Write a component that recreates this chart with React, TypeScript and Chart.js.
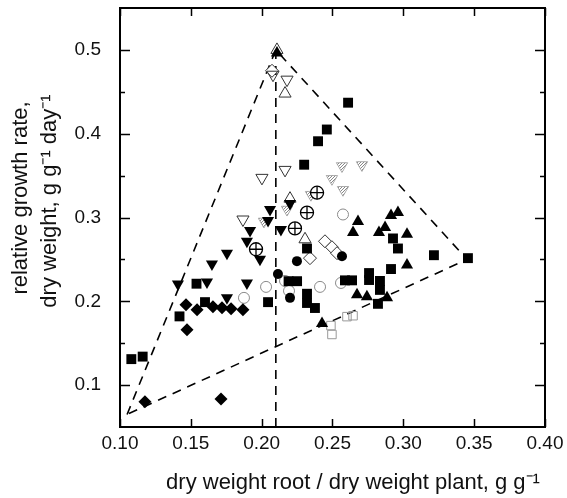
import React, { useEffect, useRef } from "react";
import { Chart, registerables } from "chart.js";

Chart.register(...registerables);

const xTicks = [0.1, 0.15, 0.2, 0.25, 0.3, 0.35, 0.4];
const yTicks = [0.1, 0.2, 0.3, 0.4, 0.5];
const yMinorTicks = [0.15, 0.25, 0.35, 0.45];

const filledSquares = [
  [0.108, 0.131], [0.116, 0.134], [0.142, 0.182], [0.154, 0.221], [0.160, 0.199],
  [0.2045, 0.199], [0.219, 0.224], [0.225, 0.224], [0.232, 0.209], [0.232, 0.198],
  [0.2376, 0.192], [0.232, 0.263], [0.23, 0.363], [0.2398, 0.391], [0.246, 0.405],
  [0.261, 0.437], [0.2588, 0.225], [0.2638, 0.225], [0.2927, 0.275], [0.2962, 0.263],
  [0.3216, 0.255], [0.3456, 0.2515], [0.2913, 0.2385], [0.2758, 0.2337], [0.2758, 0.2254],
  [0.2835, 0.2243], [0.2835, 0.2136], [0.2821, 0.197],
];
const filledDiamonds = [
  [0.1466, 0.196], [0.1544, 0.19], [0.1473, 0.166], [0.1656, 0.1935], [0.172, 0.1923],
  [0.1784, 0.1911], [0.1868, 0.19], [0.1176, 0.08], [0.1713, 0.0834],
];
const filledDownTriangles = [
  [0.1409, 0.2207], [0.1614, 0.2231], [0.1755, 0.2041], [0.1896, 0.2219], [0.1649, 0.2444],
  [0.1755, 0.2574], [0.1918, 0.2846], [0.1896, 0.2716], [0.1988, 0.2503], [0.2059, 0.3095],
  [0.2045, 0.2964], [0.2136, 0.2858], [0.22, 0.3166],
];
const filledUpTriangles = [
  [0.268, 0.2953], [0.2645, 0.2822], [0.2913, 0.3024], [0.2962, 0.3059], [0.2871, 0.2882],
  [0.2828, 0.2822], [0.3026, 0.2799], [0.3026, 0.2432], [0.2673, 0.2077], [0.2743, 0.2053],
  [0.2885, 0.2041], [0.2426, 0.1734], [0.2108, 0.4964],
];
const filledCircles = [
  [0.2115, 0.2325], [0.2249, 0.2479], [0.22, 0.2041], [0.2567, 0.2538],
];
const openCircles = [
  [0.1875, 0.2041], [0.2031, 0.2172], [0.2165, 0.2243], [0.2193, 0.2124], [0.2412, 0.2172],
  [0.256, 0.2219], [0.2574, 0.3036],
];
const openDownTriangles = [
  [0.2002, 0.3473], [0.2165, 0.3568], [0.208, 0.4704], [0.2179, 0.4645], [0.1868, 0.2976],
];
const openUpTriangles = [
  [0.2165, 0.4479], [0.2108, 0.5], [0.22, 0.3225], [0.2306, 0.274],
];
const openDiamonds = [
  [0.2447, 0.2716], [0.2496, 0.2645], [0.2532, 0.2574], [0.2341, 0.2515], [0.2073, 0.4751],
];
const crossedCircles = [
  [0.2391, 0.3296], [0.232, 0.3059], [0.2235, 0.287], [0.196, 0.2621],
];
const hatchedDownTriangles = [
  [0.2567, 0.3615], [0.2708, 0.3627], [0.2496, 0.3462], [0.2574, 0.3331], [0.2348, 0.3272],
  [0.2179, 0.3095], [0.2016, 0.2953],
];
const openSquares = [
  [0.2489, 0.171], [0.2496, 0.1604], [0.2602, 0.1817], [0.2645, 0.1828],
];
const triangleLine = [
  [0.105, 0.065], [0.21, 0.5], [0.345, 0.25], [0.105, 0.065],
];
const verticalLine = [
  [0.21, 0.5], [0.21, 0.05],
];

const pts = (a: number[][]) => a.map(([x, y]) => ({ x, y }));

const FONT = "'Liberation Sans', Arial, sans-serif";

const framePlugin = {
  id: "frame",
  afterDraw(chart: any) {
    const { ctx, chartArea: a, scales } = chart;
    const xs = scales.x;
    const ys = scales.y;
    ctx.save();
    ctx.strokeStyle = "#000";
    ctx.lineWidth = 2;
    ctx.strokeRect(a.left, a.top, a.right - a.left, a.bottom - a.top);
    ctx.lineWidth = 1.5;
    ctx.beginPath();
    xTicks.forEach((v) => {
      const px = Math.round(xs.getPixelForValue(v)) + 0.5;
      ctx.moveTo(px, a.bottom);
      ctx.lineTo(px, a.bottom - 8);
      ctx.moveTo(px, a.top);
      ctx.lineTo(px, a.top + 8);
    });
    yTicks.forEach((v) => {
      const py = Math.round(ys.getPixelForValue(v)) + 0.5;
      ctx.moveTo(a.left, py);
      ctx.lineTo(a.left + 10, py);
      ctx.moveTo(a.right, py);
      ctx.lineTo(a.right - 10, py);
    });
    yMinorTicks.forEach((v) => {
      const py = Math.round(ys.getPixelForValue(v)) + 0.5;
      ctx.moveTo(a.left, py);
      ctx.lineTo(a.left + 5, py);
      ctx.moveTo(a.right, py);
      ctx.lineTo(a.right - 5, py);
    });
    ctx.stroke();

    ctx.fillStyle = "#111";
    ctx.font = `22px ${FONT}`;
    ctx.textAlign = "center";
    ctx.textBaseline = "middle";
    ctx.fillText("dry weight root / dry weight plant, g g\u207B\u00B9", 353, 483);
    ctx.save();
    ctx.translate(21, 198);
    ctx.rotate(-Math.PI / 2);
    ctx.fillText("relative growth rate,", 0, 0);
    ctx.restore();
    ctx.save();
    ctx.translate(50, 201);
    ctx.rotate(-Math.PI / 2);
    ctx.fillText("dry weight, g g\u207B\u00B9 day\u207B\u00B9", 0, 0);
    ctx.restore();
    ctx.restore();
  },
};

export default function App() {
  const ref = useRef<HTMLCanvasElement>(null);
  useEffect(() => {
    const canvas = ref.current!;
    const pc = document.createElement("canvas");
    pc.width = 3;
    pc.height = 3;
    const p = pc.getContext("2d")!;
    p.fillStyle = "#fff";
    p.fillRect(0, 0, 3, 3);
    p.fillStyle = "#888";
    p.fillRect(0, 0, 1, 1);
    p.fillRect(2, 1, 1, 1);
    p.fillRect(1, 2, 1, 1);
    const hatch = canvas.getContext("2d")!.createPattern(pc, "repeat");

    const base = { showLine: false, order: 1 };
    const chart = new Chart(canvas, {
      type: "scatter",
      data: {
        datasets: [
          { ...base, label: "crossed circles cross", data: pts(crossedCircles), pointStyle: "cross", pointRadius: 6.5, borderColor: "#000", borderWidth: 1.3 },
          { ...base, label: "crossed circles", data: pts(crossedCircles), pointStyle: "circle", pointRadius: 6.5, backgroundColor: "rgba(255,255,255,0.9)", borderColor: "#000", borderWidth: 1.3 },
          { ...base, label: "filled squares", data: pts(filledSquares), pointStyle: "rect", pointRadius: 7, backgroundColor: "#000", borderColor: "#000", borderWidth: 0 },
          { ...base, label: "filled diamonds", data: pts(filledDiamonds), pointStyle: "rectRot", pointRadius: 6.5, backgroundColor: "#000", borderColor: "#000", borderWidth: 0 },
          { ...base, label: "filled down triangles", data: pts(filledDownTriangles), pointStyle: "triangle", rotation: 180, pointRadius: 7, backgroundColor: "#000", borderColor: "#000", borderWidth: 0 },
          { ...base, label: "filled up triangles", data: pts(filledUpTriangles), pointStyle: "triangle", pointRadius: 7, backgroundColor: "#000", borderColor: "#000", borderWidth: 0 },
          { ...base, label: "filled circles", data: pts(filledCircles), pointStyle: "circle", pointRadius: 5, backgroundColor: "#000", borderColor: "#000", borderWidth: 0 },
          { ...base, label: "open circles", data: pts(openCircles), pointStyle: "circle", pointRadius: 5.5, backgroundColor: "rgba(255,255,255,0)", borderColor: "#8a8a8a", borderWidth: 1 },
          { ...base, label: "open down triangles", data: pts(openDownTriangles), pointStyle: "triangle", rotation: 180, pointRadius: 7, backgroundColor: "rgba(255,255,255,0)", borderColor: "#333", borderWidth: 1 },
          { ...base, label: "open up triangles", data: pts(openUpTriangles), pointStyle: "triangle", pointRadius: 7, backgroundColor: "rgba(255,255,255,0)", borderColor: "#333", borderWidth: 1 },
          { ...base, label: "open diamonds", data: pts(openDiamonds), pointStyle: "rectRot", pointRadius: 6.5, backgroundColor: "#fff", borderColor: "#333", borderWidth: 1 },
          { ...base, label: "hatched down triangles", data: pts(hatchedDownTriangles), pointStyle: "triangle", rotation: 180, pointRadius: 6.5, backgroundColor: hatch as any, borderColor: "#999", borderWidth: 0.8 },
          { ...base, label: "open squares", data: pts(openSquares), pointStyle: "rect", pointRadius: 6, backgroundColor: "rgba(255,255,255,0)", borderColor: "#999", borderWidth: 1 },
          { label: "triangle", data: pts(triangleLine), showLine: true, order: 100, borderColor: "#000", borderWidth: 1.6, borderDash: [9, 7], pointRadius: 0, fill: false },
          { label: "vertical", data: pts(verticalLine), showLine: true, order: 100, borderColor: "#000", borderWidth: 1.6, borderDash: [9, 7], pointRadius: 0, fill: false },
        ],
      },
      options: {
        responsive: false,
        animation: false,
        events: [],
        layout: { padding: { left: 0, right: 22, top: 5, bottom: 0 } },
        plugins: { legend: { display: false }, tooltip: { enabled: false }, title: { display: false } },
        scales: {
          x: {
            type: "linear",
            min: 0.1,
            max: 0.4,
            grid: { display: false, drawTicks: false },
            border: { display: false },
            afterBuildTicks: (s: any) => { s.ticks = xTicks.map((v) => ({ value: v })); },
            afterFit: (s: any) => { s.height = 71; s.paddingLeft = 0; s.paddingRight = 0; s.paddingTop = 0; s.paddingBottom = 0; },
            ticks: {
              padding: 5,
              color: "#111",
              font: { family: FONT, size: 19 },
              callback: (v: any) => Number(v).toFixed(2),
              maxRotation: 0,
              autoSkip: false,
            },
          },
          y: {
            type: "linear",
            min: 0.05,
            max: 0.55,
            grid: { display: false, drawTicks: false },
            border: { display: false },
            afterBuildTicks: (s: any) => { s.ticks = yTicks.map((v) => ({ value: v })); },
            afterFit: (s: any) => { s.width = 120; s.paddingLeft = 0; s.paddingRight = 0; s.paddingTop = 0; s.paddingBottom = 0; },
            ticks: {
              padding: 19,
              color: "#111",
              font: { family: FONT, size: 19 },
              callback: (v: any) => Number(v).toFixed(1),
              autoSkip: false,
            },
          },
        },
      },
      plugins: [framePlugin],
    });
    return () => chart.destroy();
  }, []);
  return (
    <div style={{ position: "fixed", left: 0, top: 0, width: 567, height: 498, background: "#fff" }}>
      <canvas ref={ref} width={567} height={498} />
    </div>
  );
}
